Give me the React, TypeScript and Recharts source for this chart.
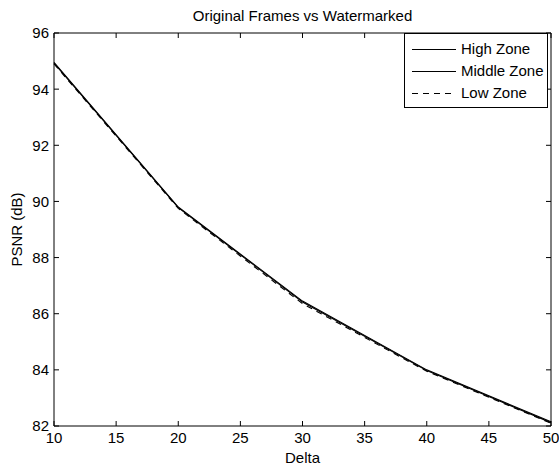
import { LineChart, Line, XAxis, YAxis, Legend } from "recharts";

const deltas = [10, 20, 30, 40, 50];
const highZone = [94.95, 89.8, 86.45, 84.0, 82.15];
const middleZone = [94.93, 89.78, 86.42, 83.98, 82.12];
const lowZone = [94.9, 89.75, 86.36, 83.95, 82.1];
const xTicks = [10, 15, 20, 25, 30, 35, 40, 45, 50];
const yTicks = [82, 84, 86, 88, 90, 92, 94, 96];

const data = deltas.map((d, i) => ({
  delta: d,
  high: highZone[i],
  middle: middleZone[i],
  low: lowZone[i],
}));

const FONT = '"Liberation Sans", Arial, Helvetica, sans-serif';

const BottomTick = ({ x, y, payload }: any) => (
  <g>
    <line x1={x} x2={x} y1={y} y2={y - 5} stroke="#000" />
    <text x={x} y={y + 17} textAnchor="middle" fontSize={15} fontFamily={FONT} fill="#000">
      {payload.value}
    </text>
  </g>
);

// mirrored axes: ticks point into the plot
const TopTick = ({ x, y }: any) => <line x1={x} x2={x} y1={y} y2={y + 5} stroke="#000" />;

const LeftTick = ({ x, y, payload }: any) => (
  <g>
    <line x1={x} x2={x + 5} y1={y} y2={y} stroke="#000" />
    <text x={x - 5} y={y} dy="0.36em" textAnchor="end" fontSize={15} fontFamily={FONT} fill="#000">
      {payload.value}
    </text>
  </g>
);

const RightTick = ({ x, y }: any) => <line x1={x} x2={x - 5} y1={y} y2={y} stroke="#000" />;

const TitleLabel = ({ viewBox }: any) => (
  <text x={viewBox.x + viewBox.width / 2} y={21} textAnchor="middle" fontSize={15} fontFamily={FONT} fill="#000">
    Original Frames vs Watermarked
  </text>
);

const XLabel = ({ viewBox }: any) => (
  <text x={viewBox.x + viewBox.width / 2} y={463} textAnchor="middle" fontSize={15} fontFamily={FONT} fill="#000">
    Delta
  </text>
);

const YLabel = ({ viewBox }: any) => {
  const cy = viewBox.y + viewBox.height / 2;
  return (
    <text
      x={16.5}
      y={cy}
      dy="0.36em"
      transform={`rotate(-90 16.5 ${cy})`}
      textAnchor="middle"
      fontSize={15}
      fontFamily={FONT}
      fill="#000"
    >
      PSNR (dB)
    </text>
  );
};

const legendItems = [
  { name: "High Zone", dash: undefined },
  { name: "Middle Zone", dash: undefined },
  { name: "Low Zone", dash: "6 5" },
];

const LegendBox = () => (
  <div
    style={{
      width: 142,
      height: 69,
      border: "1px solid #000",
      background: "#fff",
      boxSizing: "content-box",
      paddingTop: 4,
      fontFamily: FONT,
      fontSize: 15,
    }}
  >
    {legendItems.map((it) => (
      <div key={it.name} style={{ display: "flex", alignItems: "center", height: 22 }}>
        <svg width={56} height={22} style={{ display: "block" }}>
          <line x1={7} x2={51} y1={11.5} y2={11.5} stroke="#000" strokeDasharray={it.dash} />
        </svg>
        <span style={{ lineHeight: "22px" }}>{it.name}</span>
      </div>
    ))}
  </div>
);

export default function App() {
  return (
    <div style={{ position: "absolute", left: 0, top: 0, width: 559, height: 467, background: "#fff" }}>
      <LineChart width={559} height={467} data={data} margin={{ top: 32, right: 7, left: 0, bottom: 0 }}>
        <XAxis
          dataKey="delta"
          type="number"
          domain={[10, 50]}
          ticks={xTicks}
          height={41}
          tickSize={0}
          tickMargin={0}
          tickLine={false}
          axisLine={{ stroke: "#000" }}
          tick={<BottomTick />}
          interval={0}
          label={<XLabel />}
        />
        <XAxis
          xAxisId="top"
          orientation="top"
          dataKey="delta"
          type="number"
          domain={[10, 50]}
          ticks={xTicks}
          height={1}
          tickSize={0}
          tickMargin={0}
          tickLine={false}
          axisLine={{ stroke: "#000" }}
          tick={<TopTick />}
          interval={0}
          label={<TitleLabel />}
        />
        <YAxis
          type="number"
          domain={[82, 96]}
          ticks={yTicks}
          width={54}
          tickSize={0}
          tickMargin={0}
          tickLine={false}
          axisLine={{ stroke: "#000" }}
          tick={<LeftTick />}
          interval={0}
          label={<YLabel />}
        />
        <YAxis
          yAxisId="right"
          orientation="right"
          type="number"
          domain={[82, 96]}
          ticks={yTicks}
          width={1}
          tickSize={0}
          tickMargin={0}
          tickLine={false}
          axisLine={{ stroke: "#000" }}
          tick={<RightTick />}
          interval={0}
        />
        <Legend
          layout="vertical"
          align="center"
          verticalAlign="middle"
          content={<LegendBox />}
          wrapperStyle={{ position: "absolute", left: 404, top: 33, width: "auto", height: "auto" }}
        />
        {/* invisible series so the mirrored top/right axes get drawn */}
        <Line
          xAxisId="top"
          yAxisId="right"
          dataKey="high"
          stroke="none"
          dot={false}
          legendType="none"
          isAnimationActive={false}
        />
        <Line dataKey="low" name="Low Zone" stroke="#000" strokeWidth={1.1} strokeDasharray="6 5" dot={false} isAnimationActive={false} />
        <Line dataKey="high" name="High Zone" stroke="#000" strokeWidth={1.1} dot={false} isAnimationActive={false} />
        <Line dataKey="middle" name="Middle Zone" stroke="#000" strokeWidth={1.1} dot={false} isAnimationActive={false} />
      </LineChart>
    </div>
  );
}
